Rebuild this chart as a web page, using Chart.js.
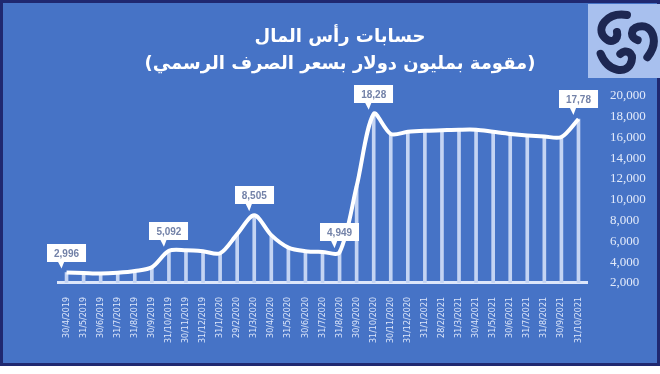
<!DOCTYPE html>
<html>
<head>
<meta charset="utf-8">
<script src="https://cdn.jsdelivr.net/npm/chart.js@4"></script>
<style>
  html, body { margin: 0; padding: 0; background: #fff; }
  #box { position: absolute; left: 0; top: 0; width: 654px; height: 360px; background: #4673c6; border: 3px solid #1f2870; }
  #box canvas { position: absolute; left: 0; top: 0; }
  #logo { position: absolute; left: 588px; top: 4px; width: 72px; height: 74px; }
</style>
</head>
<body>
<div id="box"><canvas id="chart" width="654" height="360"></canvas></div>
<svg id="logo" viewBox="0 0 72 74">
  <rect width="72" height="74" fill="#a8c0ee"/>
  <g fill="none" stroke="#1d2752" stroke-width="8" stroke-linecap="round" transform="translate(37,38)">
    <path d="M2,-27 C-18,-30 -30,-14 -20,-4 C-14,2 -6,-2 -8,-10"/>
    <path d="M2,-27 C-18,-30 -30,-14 -20,-4 C-14,2 -6,-2 -8,-10" transform="rotate(120)"/>
    <path d="M2,-27 C-18,-30 -30,-14 -20,-4 C-14,2 -6,-2 -8,-10" transform="rotate(240)"/>
  </g>
</svg>
<script>
// التواريخ (نهاية كل شهر)
const dates = [
  '30/4/2019', '31/5/2019', '30/6/2019', '31/7/2019', '31/8/2019', '30/9/2019',
  '31/10/2019', '30/11/2019', '31/12/2019', '31/1/2020', '29/2/2020', '31/3/2020',
  '30/4/2020', '31/5/2020', '30/6/2020', '31/7/2020', '31/8/2020', '30/9/2020',
  '31/10/2020', '30/11/2020', '31/12/2020', '31/1/2021', '28/2/2021', '31/3/2021',
  '30/4/2021', '31/5/2021', '30/6/2021', '31/7/2021', '31/8/2021', '30/9/2021',
  '31/10/2021'
];

// حسابات رأس المال بالمليون دولار
const capital = [
  2996, 2950, 2900, 2980, 3150, 3500,
  5092, 5150, 5050, 4850, 6700, 8505,
  6600, 5400, 5050, 4980, 4949, 11300,
  18280, 16350, 16550, 16650, 16700, 16750,
  16750, 16550, 16350, 16200, 16100, 16050,
  17780
];

// النقاط التي عليها بطاقات القيم
const calloutIdx = [0, 6, 11, 16, 18, 30];
const calloutText = ['2,996', '5,092', '8,505', '4,949', '18,28', '17,78'];

const yTicks = { min: 2000, max: 20000, step: 2000 };

const titleLines = ['حسابات رأس المال', '(مقومة بمليون دولار بسعر الصرف الرسمي)'];

// بطاقات القيم فوق النقاط
const calloutPlugin = {
  id: 'callouts',
  afterDatasetsDraw(chart) {
    const ctx = chart.ctx;
    const pts = chart.getDatasetMeta(0).data;
    ctx.save();
    ctx.font = 'bold 10px "Liberation Sans"';
    calloutIdx.forEach((i, k) => {
      const p = pts[i];
      const t = calloutText[k];
      const w = ctx.measureText(t).width + 14, h = 18;
      const bx = Math.round(p.x - w / 2), by = Math.round(p.y - 11 - h);
      ctx.fillStyle = '#ffffff';
      ctx.beginPath();
      ctx.rect(bx, by, w, h);
      ctx.fill();
      ctx.beginPath();
      ctx.moveTo(p.x - 9, by + h - 1);
      ctx.lineTo(p.x - 5, p.y - 4);
      ctx.lineTo(p.x - 2, by + h - 1);
      ctx.fill();
      ctx.fillStyle = '#7382a8';
      ctx.textAlign = 'center';
      ctx.textBaseline = 'middle';
      ctx.fillText(t, p.x, by + h / 2 + 1);
    });
    ctx.restore();
  }
};

new Chart(document.getElementById('chart'), {
  type: 'bar',
  data: {
    labels: dates,
    datasets: [
      {
        type: 'line',
        data: capital,
        yAxisID: 'y',
        borderColor: '#ffffff',
        borderWidth: 4,
        pointRadius: 0,
        tension: 0.3,
        fill: false,
        order: 0
      },
      {
        type: 'bar',
        data: capital,
        yAxisID: 'y',
        backgroundColor: '#c4d4f3',
        barThickness: 3,
        order: 1
      }
    ]
  },
  options: {
    responsive: false,
    animation: false,
    events: [],
    layout: { padding: { left: 20, right: 0, top: 0, bottom: 14 } },
    plugins: {
      legend: { display: false },
      tooltip: { enabled: false },
      title: {
        display: true,
        text: titleLines,
        color: '#ffffff',
        font: { family: '"DejaVu Sans", sans-serif', size: 18, weight: 'bold', lineHeight: 1.5 },
        padding: { top: 21, bottom: 18 }
      }
    },
    scales: {
      x: {
        grid: { display: false },
        border: { display: true, color: '#dce6fa', width: 3 },
        ticks: {
          color: '#dce6fa',
          font: { family: '"DejaVu Sans"', size: 8 },
          minRotation: 90,
          maxRotation: 90,
          autoSkip: false,
          padding: 6
        }
      },
      // محور فارغ على اليسار لحجز المسافة فقط
      left: {
        position: 'left',
        grid: { display: false },
        border: { display: false },
        ticks: { display: false },
        afterFit(scale) { scale.width = 35; }
      },
      y: {
        position: 'right',
        min: yTicks.min,
        max: yTicks.max,
        grid: { display: false },
        border: { display: false },
        ticks: {
          stepSize: yTicks.step,
          color: '#e2eafa',
          font: { family: '"Liberation Serif"', size: 13 },
          padding: 15
        },
        afterFit(scale) { scale.width = 70; }
      }
    }
  },
  plugins: [calloutPlugin]
});
</script>
</body>
</html>
